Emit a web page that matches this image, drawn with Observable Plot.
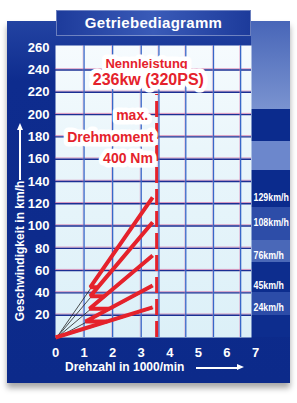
<!DOCTYPE html>
<html><head><meta charset="utf-8">
<script src="https://cdn.jsdelivr.net/npm/d3@7"></script>
<script src="https://cdn.jsdelivr.net/npm/@observablehq/plot@0.6"></script>
<style>
html,body{margin:0;padding:0;background:#fff;}
#wrap{position:relative;width:297px;height:403px;overflow:hidden;font-family:'Liberation Sans',Arial,sans-serif;}
#frame{position:absolute;left:7px;top:21px;width:283px;height:362px;background:linear-gradient(to bottom,#2343a2 0px,#0e2c8e 60px,#0c2a8a 100%);box-shadow:0 5px 6px rgba(0,0,0,0.35);}
#rstrip{position:absolute;left:251px;top:21px;width:39px;height:316px;
 background:linear-gradient(to bottom,#4866b8 0px,#7a93d0 88px,#0b2b8d 88px,#0b2b8d 120px,#6c87cc 120px,#6c87cc 149px,#0b2b8d 149px,#0b2b8d 186px,#2d4da8 186px,#2d4da8 219px,#4a68b8 219px,#4a68b8 241px,#0d2d8e 241px,#0d2d8e 271px,#2c4ca8 271px,#2c4ca8 294px,#0d2d8e 294px);}
#title{position:absolute;left:56px;top:10px;width:195px;height:26px;box-sizing:border-box;border:1px solid rgba(255,255,255,0.35);
 background:linear-gradient(to right,#1d3b9b,#3a5bb8 50%,#1d3b9b);color:#fff;font-weight:bold;font-size:15px;line-height:24px;text-align:center;letter-spacing:0.3px;}
#chart{position:absolute;left:0;top:0;}
#ytitle{position:absolute;left:20px;top:251px;transform:translate(-50%,-50%) rotate(-90deg);color:#fff;font-weight:bold;font-size:12px;white-space:nowrap;}
#yarrow{position:absolute;left:19px;top:130px;width:1.5px;height:50px;background:#fff;}
#yarrow::before{content:"";position:absolute;left:-2.5px;top:-7px;border-left:3.25px solid transparent;border-right:3.25px solid transparent;border-bottom:7px solid #fff;}
#xtitle{position:absolute;left:65px;top:360px;color:#fff;font-weight:bold;font-size:12px;white-space:nowrap;}
#xarrow{position:absolute;left:196px;top:367px;width:41px;height:1.5px;background:#fff;}
#xarrow::after{content:"";position:absolute;right:-7px;top:-2.75px;border-top:3.5px solid transparent;border-bottom:3.5px solid transparent;border-left:7px solid #fff;}
</style></head><body>
<div id="wrap">
 <div id="frame"></div>
 <div id="rstrip"></div>
 <div id="title">Getriebediagramm</div>
 <div id="chart"></div>
 <div id="ytitle">Geschwindigkeit in km/h</div>
 <div id="yarrow"></div>
 <div id="xtitle">Drehzahl in 1000/min</div>
 <div id="xarrow"></div>
</div>
<script>
// ---- data ----
const speedTicks = [20, 40, 60, 80, 100, 120, 140, 160, 180, 200, 220, 240, 260];
const rpmTicks = [0, 1, 2, 3, 4, 5, 6, 7];
const gridSpeed = [20, 40, 60, 80, 100, 120, 140, 160, 180, 200, 220, 240];
const gridRpm = [1, 2, 3, 3.62, 4.56, 5.53, 6.48];
const gears = ["1", "2", "3", "4", "5"];
const gearEndSpeed = [27, 46.6, 73.5, 103.4, 125.8];
const gearStartRpm = [0, 1.05, 1.19, 1.22, 1.22];
const gearLabels = ["24km/h", "45km/h", "76km/h", "108km/h", "129km/h"];
const maxRpm = 3.4;
const ratedRpm = 3.54;
const ratedLineTop = 218;
const annText = ["Nennleistung", "236kw (320PS)", "max.", "Drehmoment", "400 Nm"];
const annRpm = [3.19, 3.25, 3.24, 3.43, 3.41];
const annSpeed = [245.5, 231.5, 199, 179.5, 160.5];
const annSize = [13, 16, 14, 14, 14];
const annAnchor = ["middle", "middle", "end", "end", "end"];

// ---- derived geometry ----
const slope = gearEndSpeed.map(v => v / maxRpm);
const redPath = [];
gears.forEach((g, i) => {
  const r0 = gearStartRpm[i], v0 = slope[i] * r0;
  if (i > 0) redPath.push({g, rpm: v0 / slope[i - 1], speed: v0});
  redPath.push({g, rpm: r0, speed: v0});
  redPath.push({g, rpm: maxRpm, speed: gearEndSpeed[i]});
});
const thin = gears.map((g, i) => ({g, x1: 0, y1: 0, x2: maxRpm, y2: gearEndSpeed[i]}));
const ann = annText.map((t, i) => ({t, rpm: annRpm[i], speed: annSpeed[i], size: annSize[i], anchor: annAnchor[i]}));
const labels = gearLabels.map((t, i) => ({t, speed: gearEndSpeed[i]}));

const red = "#e5222b";
const marks = [
  Plot.frame({fill: "url(#plotbg)"}),
  Plot.ruleY(gridSpeed, {stroke: "#c9468a", strokeWidth: 0.7, strokeOpacity: 0.8, dy: -1.2}),
  Plot.ruleY(gridSpeed, {stroke: "#1b2f94", strokeWidth: 1.4}),
  Plot.ruleX(gridRpm, {stroke: "#e37aa8", strokeWidth: 0.6, strokeOpacity: 0.6, dx: -1.1}),
  Plot.ruleX(gridRpm, {stroke: "#3867c8", strokeWidth: 1.3}),
  Plot.ruleX([ratedRpm], {y1: 0, y2: ratedLineTop, stroke: red, strokeWidth: 3, strokeDasharray: "16,6"}),
  Plot.link(thin, {x1: "x1", y1: "y1", x2: "x2", y2: "y2", stroke: "#222", strokeWidth: 0.8, dx: 0.6, dy: 0.8}),
  Plot.line(redPath, {x: "rpm", y: "speed", z: "g", stroke: red, strokeWidth: 4, strokeLinejoin: "miter", strokeLinecap: "butt"})
];
ann.forEach(a => marks.push(Plot.text([a], {x: "rpm", y: "speed", text: "t", fill: red, fontSize: a.size, fontWeight: "bold",
  textAnchor: a.anchor, stroke: "white", strokeWidth: 9, strokeLinejoin: "round", paintOrder: "stroke"})));
marks.push(
  Plot.text(labels, {x: () => 6.86, y: "speed", text: "t", dx: 2, textAnchor: "start", fill: "white", fontSize: 11,
    fontWeight: "bold"}),
  Plot.axisY(speedTicks, {tickSize: 0, tickPadding: 6, color: "white", fontSize: 13, fontWeight: "bold", label: null}),
  Plot.axisX(rpmTicks, {tickSize: 0, tickPadding: 10, color: "white", fontSize: 13, fontWeight: "bold", label: null})
);

const chart = Plot.plot({
  width: 297, height: 403,
  marginLeft: 55, marginRight: 46, marginTop: 45, marginBottom: 66,
  x: {domain: [0, 6.86], axis: null},
  y: {domain: [0, 262], axis: null},
  style: {background: "transparent", fontFamily: "'Liberation Sans', Arial, sans-serif", overflow: "visible"},
  marks
});
const ns = "http://www.w3.org/2000/svg";
const defs = document.createElementNS(ns, "defs");
defs.innerHTML = '<linearGradient id="plotbg" x1="0" y1="0" x2="0" y2="1"><stop offset="0" stop-color="#f6fbfe"/><stop offset="0.35" stop-color="#eaf6fb"/><stop offset="1" stop-color="#dcf0f8"/></linearGradient>';
chart.insertBefore(defs, chart.firstChild);
// condense the right-hand speed labels to the narrow width of the original
chart.querySelectorAll("text").forEach(t => {
  if (/km\/h$/.test(t.textContent)) {
    t.setAttribute("textLength", t.textContent.length * 5.05);
    t.setAttribute("lengthAdjust", "spacingAndGlyphs");
  }
});
document.getElementById("chart").appendChild(chart);
</script>
</body></html>
